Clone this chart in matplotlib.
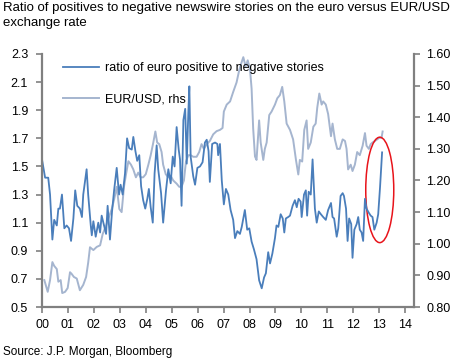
import matplotlib
matplotlib.use("Agg")
import matplotlib.pyplot as plt
from matplotlib.patches import Ellipse
from matplotlib.ticker import FormatStrFormatter

plt.rcParams['font.family'] = ['Liberation Sans', 'DejaVu Sans']

# Ratio of euro positive to negative stories (left axis)
ratio_years = [2000.00, 2000.12, 2000.24, 2000.31, 2000.40, 2000.47, 2000.57, 2000.63, 2000.69, 2000.77,
               2000.86, 2000.95, 2001.04, 2001.12, 2001.21, 2001.28, 2001.36, 2001.46, 2001.54, 2001.59,
               2001.72, 2001.78, 2001.88, 2001.92, 2001.98, 2002.07, 2002.17, 2002.24, 2002.30, 2002.39,
               2002.47, 2002.53, 2002.62, 2002.70, 2002.78, 2002.88, 2002.97, 2003.03, 2003.11, 2003.20,
               2003.28, 2003.36, 2003.46, 2003.52, 2003.60, 2003.67, 2003.75, 2003.82, 2003.90, 2003.98,
               2004.06, 2004.12, 2004.19, 2004.27, 2004.34, 2004.42, 2004.48, 2004.59, 2004.67, 2004.78,
               2004.87, 2004.96, 2005.04, 2005.11, 2005.19, 2005.27, 2005.32, 2005.38, 2005.45, 2005.52,
               2005.58, 2005.64, 2005.68, 2005.73, 2005.83, 2005.90, 2005.99, 2006.09, 2006.19, 2006.28,
               2006.35, 2006.42, 2006.47, 2006.56, 2006.67, 2006.76, 2006.79, 2006.86, 2006.93, 2007.01,
               2007.09, 2007.18, 2007.27, 2007.37, 2007.44, 2007.53, 2007.63, 2007.70, 2007.76, 2007.82,
               2007.91, 2007.99, 2008.08, 2008.17, 2008.27, 2008.37, 2008.47, 2008.56, 2008.63, 2008.72,
               2008.79, 2008.88, 2008.98, 2009.04, 2009.11, 2009.20, 2009.28, 2009.34, 2009.40, 2009.49,
               2009.56, 2009.66, 2009.75, 2009.82, 2009.89, 2009.97, 2010.01, 2010.10, 2010.17, 2010.22,
               2010.28, 2010.36, 2010.43, 2010.52, 2010.59, 2010.67, 2010.75, 2010.84, 2010.94, 2011.03,
               2011.14, 2011.20, 2011.26, 2011.36, 2011.42, 2011.51, 2011.59, 2011.64, 2011.72, 2011.78,
               2011.84, 2011.92, 2011.97, 2012.04, 2012.13, 2012.19, 2012.25, 2012.32, 2012.38, 2012.45,
               2012.51, 2012.60, 2012.67, 2012.74, 2012.81, 2012.90, 2012.96, 2013.03, 2013.11]
ratio_values = [1.55, 1.42, 1.42, 1.30, 0.98, 1.12, 1.08, 1.20, 1.20, 1.30,
                1.06, 1.08, 1.06, 0.97, 1.13, 1.33, 1.22, 1.20, 1.14, 1.30,
                1.48, 1.30, 1.08, 1.01, 1.11, 1.00, 1.10, 1.03, 1.15, 1.08,
                1.02, 1.22, 0.98, 1.18, 1.33, 1.49, 1.30, 1.37, 1.30, 1.45,
                1.70, 1.63, 1.62, 1.71, 1.61, 1.54, 1.58, 1.36, 1.26, 1.20,
                1.27, 1.34, 1.21, 1.10, 1.45, 1.65, 1.48, 1.31, 1.10, 1.33,
                1.48, 1.38, 1.57, 1.50, 1.78, 1.62, 1.55, 1.22, 1.83, 1.91,
                1.52, 1.88, 2.07, 1.57, 1.43, 1.37, 1.49, 1.50, 1.53, 1.67,
                1.69, 1.61, 1.39, 1.66, 1.67, 1.66, 1.58, 1.66, 1.40, 1.23,
                1.34, 1.30, 1.19, 1.12, 0.99, 1.04, 1.02, 1.07, 1.13, 1.19,
                1.05, 1.06, 0.965, 0.91, 0.84, 0.69, 0.633, 0.71, 0.74, 0.89,
                0.81, 0.88, 0.99, 1.08, 1.07, 1.16, 1.13, 1.03, 1.13, 1.14,
                1.15, 1.22, 1.26, 1.21, 1.27, 1.25, 1.14, 1.30, 1.33, 1.15,
                1.32, 1.30, 1.55, 1.20, 1.10, 1.18, 1.16, 1.14, 1.12, 1.19,
                1.24, 1.14, 1.13, 1.00, 1.06, 1.29, 1.31, 1.29, 1.20, 0.97,
                1.13, 1.09, 0.85, 1.05, 1.09, 1.14, 1.05, 1.03, 0.97, 1.27,
                1.20, 1.17, 1.15, 1.14, 1.05, 1.10, 1.16, 1.35, 1.60]

# EUR/USD exchange rate (right axis)
eurusd_years = [2000.09, 2000.22, 2000.31, 2000.40, 2000.47, 2000.57, 2000.63, 2000.72, 2000.78, 2000.89,
                2000.99, 2001.08, 2001.14, 2001.23, 2001.34, 2001.46, 2001.59, 2001.70, 2001.78, 2001.85,
                2001.98, 2002.11, 2002.24, 2002.34, 2002.47, 2002.56, 2002.69, 2002.78, 2002.88, 2002.98,
                2003.07, 2003.16, 2003.24, 2003.33, 2003.43, 2003.52, 2003.62, 2003.71, 2003.80, 2003.90,
                2004.00, 2004.10, 2004.19, 2004.29, 2004.37, 2004.44, 2004.52, 2004.61, 2004.67, 2004.77,
                2004.87, 2004.96, 2005.06, 2005.19, 2005.29, 2005.38, 2005.47, 2005.55, 2005.64, 2005.73,
                2005.83, 2005.96, 2006.06, 2006.15, 2006.24, 2006.35, 2006.47, 2006.60, 2006.73, 2006.86,
                2006.96, 2007.01, 2007.12, 2007.25, 2007.37, 2007.50, 2007.60, 2007.68, 2007.76, 2007.85,
                2007.93, 2008.02, 2008.08, 2008.14, 2008.21, 2008.27, 2008.37, 2008.43, 2008.53, 2008.59,
                2008.66, 2008.76, 2008.85, 2008.98, 2009.07, 2009.17, 2009.26, 2009.34, 2009.43, 2009.56,
                2009.68, 2009.79, 2009.88, 2009.94, 2010.03, 2010.11, 2010.20, 2010.26, 2010.36, 2010.46,
                2010.55, 2010.61, 2010.69, 2010.78, 2010.84, 2010.94, 2011.03, 2011.14, 2011.20, 2011.29,
                2011.38, 2011.48, 2011.59, 2011.68, 2011.74, 2011.80, 2011.90, 2011.97, 2012.06, 2012.15,
                2012.25, 2012.36, 2012.45, 2012.51, 2012.60, 2012.67, 2012.74, 2012.83, 2012.92, 2013.00,
                2013.09, 2013.13]
eurusd_values = [0.885, 0.848, 0.885, 0.942, 0.930, 0.920, 0.880, 0.885, 0.844, 0.848,
                 0.860, 0.910, 0.905, 0.895, 0.890, 0.853, 0.870, 0.895, 0.940, 0.989,
                 0.980, 0.990, 0.995, 1.031, 1.057, 1.080, 1.110, 1.140, 1.180, 1.110,
                 1.100, 1.180, 1.220, 1.261, 1.250, 1.235, 1.210, 1.225, 1.210, 1.210,
                 1.220, 1.250, 1.280, 1.320, 1.355, 1.320, 1.315, 1.290, 1.250, 1.220,
                 1.210, 1.215, 1.200, 1.190, 1.180, 1.180, 1.200, 1.260, 1.280, 1.280,
                 1.275, 1.275, 1.290, 1.315, 1.300, 1.315, 1.325, 1.346, 1.356, 1.360,
                 1.366, 1.418, 1.440, 1.450, 1.480, 1.510, 1.548, 1.570, 1.590, 1.560,
                 1.580, 1.550, 1.490, 1.365, 1.276, 1.265, 1.390, 1.320, 1.265, 1.300,
                 1.320, 1.407, 1.418, 1.440, 1.460, 1.470, 1.496, 1.450, 1.380, 1.360,
                 1.330, 1.265, 1.219, 1.265, 1.260, 1.360, 1.390, 1.300, 1.320, 1.370,
                 1.380, 1.430, 1.475, 1.440, 1.450, 1.440, 1.410, 1.340, 1.380, 1.330,
                 1.300, 1.300, 1.330, 1.325, 1.300, 1.235, 1.250, 1.230, 1.250, 1.290,
                 1.280, 1.310, 1.350, 1.310, 1.300, 1.315, 1.320, 1.325, 1.330, 1.335,
                 1.335, 1.355]

left_ticks = [0.5, 0.7, 0.9, 1.1, 1.3, 1.5, 1.7, 1.9, 2.1, 2.3]
right_ticks = [0.80, 0.90, 1.00, 1.10, 1.20, 1.30, 1.40, 1.50, 1.60]
year_ticks = list(range(2000, 2015))
year_labels = ['00', '01', '02', '03', '04', '05', '06', '07', '08', '09', '10', '11', '12', '13', '14']

title = "Ratio of positives to negative newswire stories on the euro versus EUR/USD\nexchange rate"
source = "Source: J.P. Morgan, Bloomberg"

dark = '#4a7ebb'
light = '#a5b5cf'
spine_col = '#808080'

fig = plt.figure(figsize=(4.64, 3.6), dpi=100)
ax = fig.add_axes([42/464, 1-307/360, (414-42)/464, (307-54)/360])
ax2 = ax.twinx()

l2, = ax2.plot(eurusd_years, eurusd_values, color=light, lw=1.4, label='EUR/USD, rhs')
l1, = ax.plot(ratio_years, ratio_values, color=dark, lw=1.3, label='ratio of euro positive to negative stories')
ax.set_zorder(ax2.get_zorder() + 1)
ax.patch.set_visible(False)

ax.set_xlim(2000, 2014.34)
ax.set_ylim(0.5, 2.3)
ax2.set_ylim(0.80, 1.60)
ax.set_yticks(left_ticks)
ax.yaxis.set_major_formatter(FormatStrFormatter('%.1f'))
ax2.set_yticks(right_ticks)
ax2.yaxis.set_major_formatter(FormatStrFormatter('%.2f'))
ax.set_xticks(year_ticks)
ax.set_xticklabels(year_labels)

for a in (ax, ax2):
    a.spines['top'].set_visible(False)
    for s in ('left', 'right', 'bottom'):
        a.spines[s].set_color(spine_col)
        a.spines[s].set_linewidth(1.6)
    a.tick_params(colors=spine_col, labelcolor='black', labelsize=9, width=1.2, length=4, direction='out')
ax.spines['right'].set_visible(False)
ax2.spines['left'].set_visible(False)
ax2.spines['bottom'].set_visible(False)
ax.tick_params(axis='y', pad=6)
ax2.tick_params(axis='y', pad=5)
ax.tick_params(axis='x', pad=5)

ell = Ellipse((2013.02, 1.333), 1.08, 0.75, fill=False, edgecolor='#e8141b', lw=1.1)
ax.add_patch(ell)

leg = ax.legend(handles=[l1, l2], loc='upper left', bbox_to_anchor=(0.056, 0.967),
                frameon=False, fontsize=9, handlelength=2.9, handletextpad=0.5,
                labelspacing=1.55, borderpad=0, borderaxespad=0)

fig.text(3/464, 1-2/360, title, fontsize=9.5, va='top', ha='left', linespacing=1.3)
fig.text(3/464, 1-352/360, source, fontsize=8.5, va='center', ha='left')

fig.savefig('out.png', dpi=100)
